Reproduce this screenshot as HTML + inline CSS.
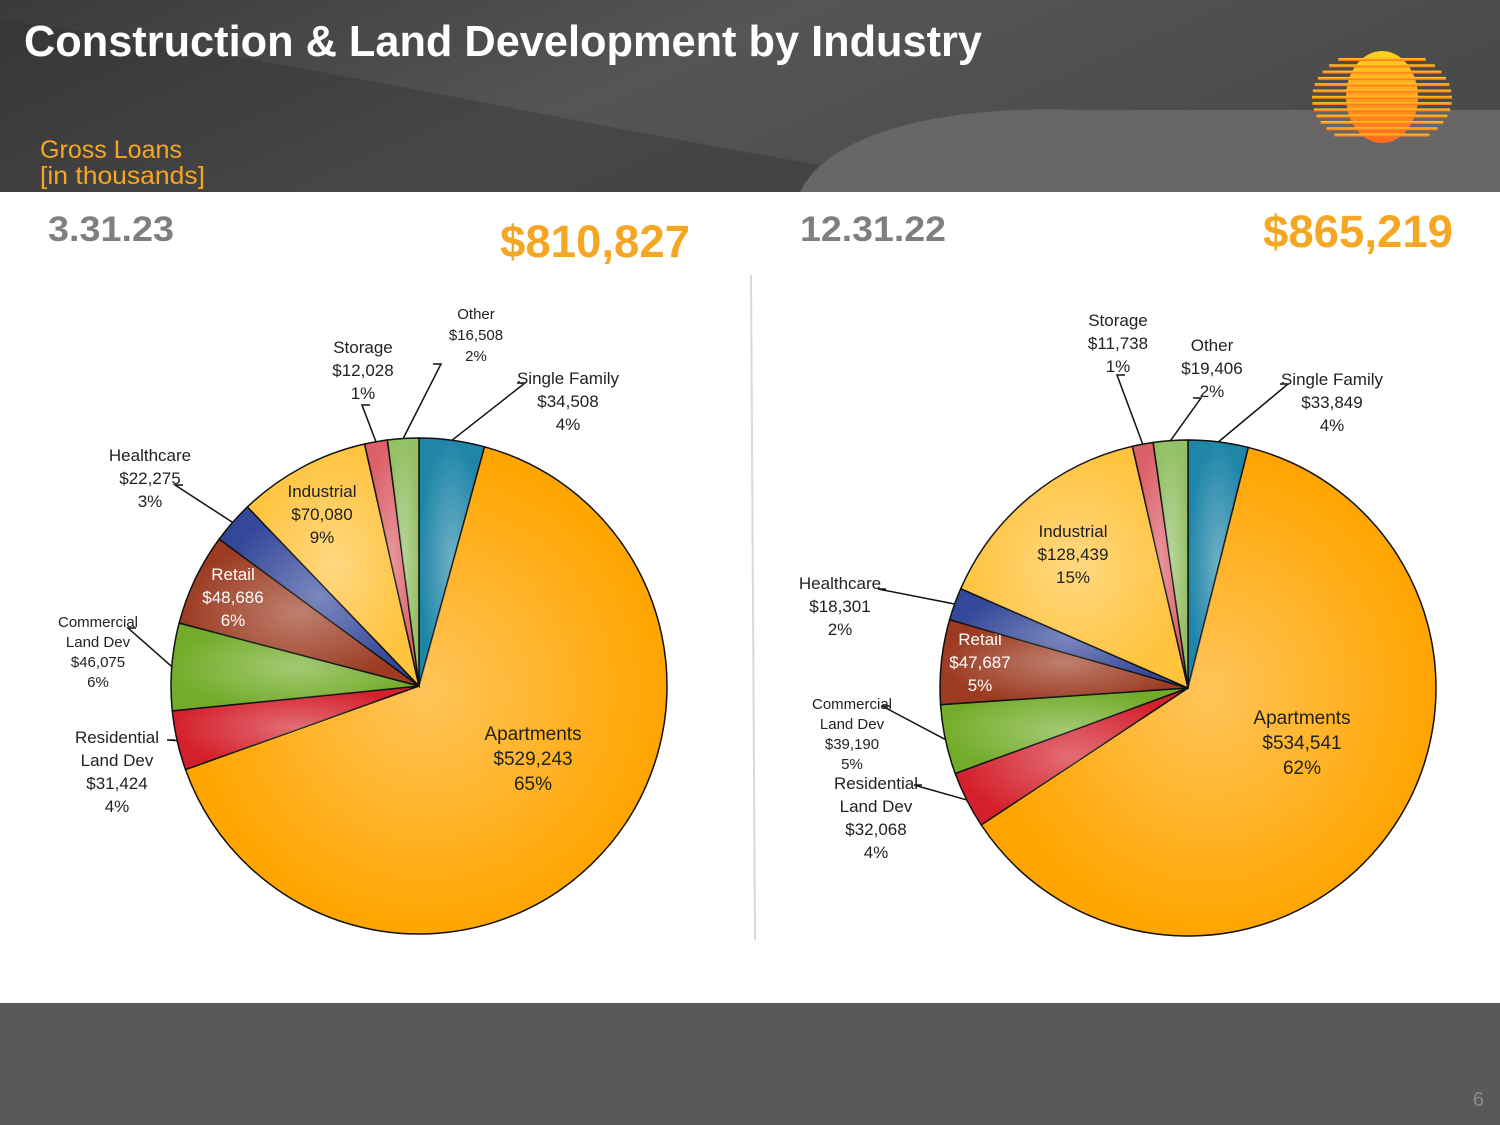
<!DOCTYPE html>
<html><head><meta charset="utf-8"><style>
html,body{margin:0;padding:0;width:1500px;height:1125px;overflow:hidden;background:#fff;font-family:"Liberation Sans",sans-serif}
svg{display:block}
</style></head><body>
<svg id="s" width="1500" height="1125" viewBox="0 0 1500 1125" xmlns="http://www.w3.org/2000/svg">
<defs>
<linearGradient id="hdr" x1="0" y1="0" x2="1" y2="0.3"><stop offset="0" stop-color="#3a3a3a"/><stop offset="0.5" stop-color="#555"/><stop offset="1" stop-color="#4a4a4a"/></linearGradient>
<linearGradient id="sun" x1="0" y1="0" x2="0" y2="1"><stop offset="0" stop-color="#ffd21f"/><stop offset="1" stop-color="#ff6a1f"/></linearGradient>
<radialGradient id="gl" cx="0.5" cy="0.5" r="0.5"><stop offset="0" stop-color="#fff" stop-opacity="0.35"/><stop offset="1" stop-color="#fff" stop-opacity="0"/></radialGradient>
</defs>
<rect x="0" y="0" width="1500" height="192" fill="url(#hdr)"/>
<path d="M0,20 C300,60 600,130 880,175 L880,192 L0,192Z" fill="#2e2e2e" opacity="0.35"/>
<path d="M800,192 C830,130 950,105 1080,110 L1500,110 L1500,192Z" fill="#666"/>
<text x="24" y="56" fill="#fff" font-size="44" font-weight="bold" textLength="958" lengthAdjust="spacingAndGlyphs">Construction &amp; Land Development by Industry</text>
<text x="40" y="158" fill="#f5a623" font-size="25" textLength="142" lengthAdjust="spacingAndGlyphs">Gross Loans</text>
<text x="40" y="184" fill="#f5a623" font-size="25" textLength="165" lengthAdjust="spacingAndGlyphs">[in thousands]</text>
<g id="logo">
<ellipse cx="1382" cy="97" rx="36" ry="46" fill="url(#sun)"/>
</g>
<rect x="0" y="1003" width="1500" height="122" fill="#595959"/>
<text x="1484" y="1106" fill="#8a8a8a" font-size="20" text-anchor="end">6</text>
<line x1="751" y1="275" x2="755" y2="940" stroke="#d9d9d9" stroke-width="2"/>
<text x="48" y="241" fill="#7f7f7f" font-size="35" font-weight="bold" textLength="126" lengthAdjust="spacingAndGlyphs">3.31.23</text>
<text x="500" y="257" fill="#f5a623" font-size="45" font-weight="bold" textLength="190" lengthAdjust="spacingAndGlyphs">$810,827</text>
<text x="800" y="241" fill="#7f7f7f" font-size="35" font-weight="bold" textLength="146" lengthAdjust="spacingAndGlyphs">12.31.22</text>
<text x="1263" y="247" fill="#f5a623" font-size="45" font-weight="bold" textLength="190" lengthAdjust="spacingAndGlyphs">$865,219</text>
<g id="pies"></g>
</svg>
<script>
const categories = ["Single Family","Apartments","Residential Land Dev","Commercial Land Dev","Retail","Healthcare","Industrial","Storage","Other"];
const valuesQ1 = [34508,529243,31424,46075,48686,22275,70080,12028,16508];
const valuesQ4 = [33849,534541,32068,39190,47687,18301,128439,11738,19406];
const pctQ1 = ["4%","65%","4%","6%","6%","3%","9%","1%","2%"];
const pctQ4 = ["4%","62%","4%","5%","5%","2%","15%","1%","2%"];
const colors = ["#1f86a8","#ffa500","#d4202c","#73ac2a","#9c3b22","#34489a","#ffc33d","#dc6068","#94c066"];
const labelNames = [["Single Family"],["Apartments"],["Residential","Land Dev"],["Commercial","Land Dev"],["Retail"],["Healthcare"],["Industrial"],["Storage"],["Other"]];

const NS="http://www.w3.org/2000/svg";
const root=document.getElementById('pies');
function mk(t,a,p){const e=document.createElementNS(NS,t);for(const k in a)e.setAttribute(k,a[k]);(p||root).appendChild(e);return e;}
function fmt(v){return "$"+v.toLocaleString("en-US");}

const layoutL=[[568,384,23,17,"#222",[517,383]],[533,740,25,19,"#222",null],[117,743,23,17,"#222",[175,740]],[98,627,20,15,"#222",[136,628]],[233,580,23,17,"#fff",null],[150,461,23,17,"#222",[183,485]],[322,497,23,17,"#222",null],[363,353,23,17,"#222",[370,405]],[476,319,21,15,"#222",[433,364]]];
const layoutR=[[1332,385,23,17,"#222",[1280,384]],[1302,724,25,19,"#222",null],[876,789,23,17,"#222",[922,785]],[852,709,20,15,"#222",[890,706]],[980,645,23,17,"#fff",null],[840,589,23,17,"#222",[886,589]],[1073,537,23,17,"#222",null],[1118,326,23,17,"#222",[1125,375]],[1212,351,23,17,"#222",[1193,398]]];

function pie(vals,pcts,cx,cy,r,layout,name){
  const g=mk('g',{});
  
  
  const total=vals.reduce((a,b)=>a+b,0);
  let a0=-Math.PI/2;
  vals.forEach((v,i)=>{
    const a1=a0+v/total*2*Math.PI;
    const large=(a1-a0)>Math.PI?1:0;
    const d=`M${cx},${cy} L${cx+r*Math.cos(a0)},${cy+r*Math.sin(a0)} A${r},${r} 0 ${large} 1 ${cx+r*Math.cos(a1)},${cy+r*Math.sin(a1)} Z`;
    const p=mk('path',{d:d,fill:colors[i],stroke:"#111","stroke-width":1.5},g);
    
    
    const gl=mk('path',{d:d,fill:"url(#gl)",stroke:"none"},g);
    
    
    const L=layout[i];
    const am=(a0+a1)/2;
    if(L[5]){
      const ln=mk('polyline',{points:`${L[5][0]},${L[5][1]} ${L[5][0]+(L[5][0]<cx?-8:8)},${L[5][1]} ${cx+r*Math.cos(am)},${cy+r*Math.sin(am)}`,fill:"none",stroke:"#111","stroke-width":1.5},g);
      
      
    }
    const lines=labelNames[i].concat([fmt(v),pcts[i]]);
    lines.forEach((t,k)=>{
      const tx=mk('text',{x:L[0],y:L[1]+k*L[2],"font-size":L[3],fill:L[4],"text-anchor":"middle"},g);
      tx.textContent=t;
      
      
    });
    a0=a1;
  });
}
pie(valuesQ1,pctQ1,419,686,248,layoutL,'pie-3-31-23');
pie(valuesQ4,pctQ4,1188,688,248,layoutR,'pie-12-31-22');

const lg=document.getElementById('logo');
for(let i=0;i<13;i++){
  const y=58+i*6.3;const dy=(y-97)/46;const w=70*Math.sqrt(Math.max(0,1-dy*dy*0.85));
  const s=mk('rect',{x:1382-w,y:y,width:2*w,height:3,fill:"url(#sun)"},lg);
  
  
}
</script>
</body></html>
